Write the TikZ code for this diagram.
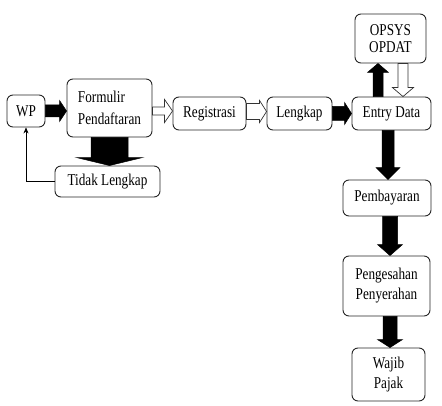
\documentclass[tikz,border=0pt]{standalone}
\usepackage{fontspec}
\setmainfont{Liberation Serif}[FakeStretch=0.8]
\usetikzlibrary{calc,arrows.meta}
\newcommand\barrow[6]{%
  \coordinate (baA) at (#2);
  \coordinate (baB) at (#3);
  \coordinate (baH) at ($(baB)!#6!(baA)$);
  \draw[#1] ($(baA)!#4!90:(baB)$) -- ($(baH)!#4!90:(baB)$) -- ($(baH)!#5!90:(baB)$) -- (baB)
    -- ($(baH)!#5!-90:(baB)$) -- ($(baH)!#4!-90:(baB)$) -- ($(baA)!#4!-90:(baB)$) -- cycle;}
\tikzset{
  box/.style={draw=black!85, line width=0.9pt, rounded corners=6pt, inner sep=1pt,
    font=\fontsize{16.5}{20}\selectfont, align=center},
  blk/.style={fill=black, draw=black, line width=0.5pt},
  wht/.style={fill=white, draw=black!80, line width=0.7pt},
}
\begin{document}
\begin{tikzpicture}[x=1pt,y=-1pt]
\useasboundingbox (0,0) rectangle (442,406);
\node[box, minimum width=38pt, minimum height=32pt] (wp) at (26,111) {WP};
\node[box, minimum width=85pt, minimum height=58pt, align=left, font=\fontsize{16.5}{22}\selectfont] (form) at (109.5,108) {Formulir\\Pendaftaran};
\node[box, minimum width=105pt, minimum height=31pt] (tidak) at (107.5,181.5) {Tidak Lengkap};
\node[box, minimum width=73pt, minimum height=33pt] (reg) at (209.5,113.5) {Registrasi};
\node[box, minimum width=65pt, minimum height=33pt] (lengkap) at (299.5,113.5) {Lengkap};
\node[box, minimum width=79pt, minimum height=33pt] (entry) at (391.5,113.5) {Entry Data};
\node[box, minimum width=71pt, minimum height=49pt, font=\fontsize{16.5}{17}\selectfont] (opsys) at (390.5,38.5) {OPSYS\\OPDAT};
\node[box, minimum width=88pt, minimum height=36pt] (pemb) at (387,198) {Pembayaran};
\node[box, minimum width=87pt, minimum height=60pt] (peng) at (386.5,286) {Pengesahan\\Penyerahan};
\node[box, minimum width=73pt, minimum height=53pt] (wajib) at (388.5,374.5) {Wajib\\Pajak};
% connectors
\barrow{blk}{wp.east}{wp.east -| form.west}{6pt}{10.5pt}{7pt}
\barrow{blk}{form.south}{form.south |- tidak.north}{18.5pt}{33pt}{8pt}
\draw[line width=0.6pt, -{Stealth[length=6pt,width=5pt]}] (tidak.west) -| (wp.south);
\barrow{wht}{$(form.east)+(0,3)$}{$(form.east -| reg.west)+(0,3)$}{4pt}{11.5pt}{8pt}
\barrow{wht}{$(reg.east)+(0,-2)$}{$(reg.east -| lengkap.west)+(0,-2)$}{8pt}{11pt}{7pt}
\barrow{blk}{lengkap.east}{lengkap.east -| entry.west}{7pt}{11pt}{7pt}
\barrow{blk}{entry.north -| 378,0}{opsys.south -| 378,0}{5pt}{10.5pt}{9pt}
\barrow{wht}{opsys.south -| 403,0}{entry.north -| 403,0}{5pt}{10.5pt}{9pt}
\barrow{blk}{entry.south -| 388,0}{pemb.north -| 388,0}{6pt}{12pt}{12pt}
\barrow{blk}{pemb.south -| 390,0}{peng.north -| 390,0}{7.5pt}{12.5pt}{11pt}
\barrow{blk}{peng.south -| 390,0}{wajib.north -| 390,0}{7pt}{12.5pt}{8pt}
\end{tikzpicture}
\end{document}
